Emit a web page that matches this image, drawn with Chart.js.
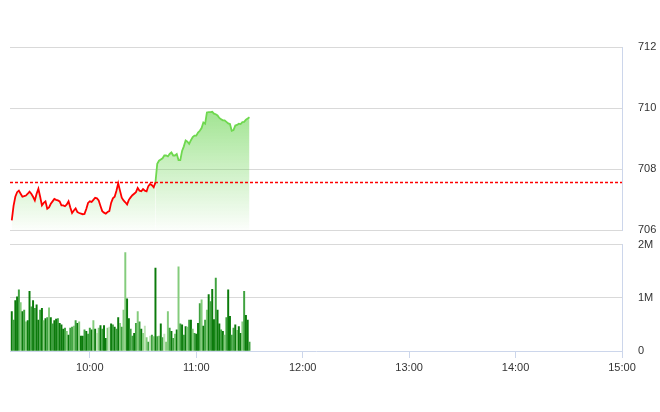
<!DOCTYPE html>
<html><head><meta charset="utf-8">
<script src="https://cdn.jsdelivr.net/npm/chart.js@4.4.1/dist/chart.umd.min.js"></script>
<style>
html,body{margin:0;padding:0;background:#fff;}
#wrap{position:relative;width:660px;height:412px;overflow:hidden;background:#fff;}
#c1{position:absolute;left:0;top:0;width:660px;height:253px;}
#c2{position:absolute;left:0;top:222px;width:660px;height:190px;}
</style></head><body>
<div id="wrap"><canvas id="c1" width="660" height="253"></canvas><canvas id="c2" width="660" height="190"></canvas></div>
<script>
// ---- data (minutes after 09:15) ----
const axisStartMinute = 0;     // 09:15
const axisEndMinute = 345;     // 15:00
const priceStartMinute = 1;
const refPrice = 707.57;
const prices = [
706.33,706.8,707.1,707.25,707.3,707.2,707.1,707.12,707.14,707.2,
707.27,707.2,707.1,706.98,707.2,707.36,707.1,706.82,706.9,706.95,
706.71,706.75,706.87,706.95,707.03,707.0,706.98,706.95,706.82,706.82,
706.79,706.85,706.95,706.75,706.57,706.65,706.72,706.6,706.57,706.55,
706.53,706.54,706.7,706.9,706.95,706.93,707.0,707.07,707.05,706.98,
706.8,706.63,706.58,706.55,706.6,706.63,706.9,707.05,707.1,707.3,
707.54,707.3,707.07,706.98,706.92,706.85,707.0,707.08,707.15,707.2,
707.25,707.39,707.3,707.28,707.35,707.3,707.28,707.45,707.52,707.48,
707.41,707.57,708.18,708.28,708.32,708.36,708.45,708.45,708.42,708.5,
708.55,708.45,708.45,708.5,708.3,708.3,708.6,708.75,708.94,708.9,
708.83,708.95,709.05,709.1,709.1,709.2,709.26,709.35,709.53,709.49,
709.86,709.87,709.87,709.88,709.82,709.8,709.76,709.68,709.64,709.6,
709.6,709.55,709.5,709.48,709.26,709.28,709.43,709.45,709.49,709.48,
709.54,709.55,709.62,709.66,709.7
];
const volStartMinute = 1;
const volumes = [ // millions of shares
0.74,0.58,0.95,1.02,1.15,0.91,0.74,0.77,0.55,0.57,1.12,0.83,0.95,0.8,0.87,0.58,0.77,0.8,0.57,0.61,
0.63,0.81,0.63,0.51,0.57,0.6,0.61,0.52,0.49,0.41,0.43,0.37,0.3,0.43,0.45,0.47,0.57,0.52,0.55,0.28,
0.28,0.4,0.37,0.32,
0.43,0.4,0.57,0.41,0.33,0.43,0.48,0.41,0.48,0.24,0.43,0.45,0.51,0.49,0.45,0.41,0.63,0.52,0.45,0.77,
1.85,0.98,0.61,0.41,0.28,0.33,0.52,0.74,0.55,0.41,0.33,0.47,0.25,0.17,0.28,0.3,0.27,1.56,0.27,0.28,
0.51,0.25,0.32,0.17,0.74,0.43,0.37,0.24,0.32,0.4,
1.58,0.51,0.49,0.3,0.46,0.45,0.58,0.58,0.41,0.33,0.32,0.52,0.89,0.96,0.47,0.58,0.77,1.06,0.93,1.16,
0.59,1.37,0.77,0.51,0.4,0.37,0.3,0.63,1.15,0.65,0.3,0.43,0.49,0.39,0.46,0.33,0.55,1.12,0.67,0.58,0.17
];
const volumeTones = (
"d m d d m l d m l d d m d m d d m d l d m l d m d d m d d d m l d m m l m d l d d m d m " +
"m d l d p l d m d d l p d m d m d l m l l d d m m d m l m d l p l m p m l d m l d m p l l m d m l d " +
"l m d m d l m d l m d d m l d m l d m d d m d d m d l m d d m m d l d d l m d d m"
).split(" ");
const tickMinutes = [45,105,165,225,285,345];
const tickLabels = ["10:00","11:00","12:00","13:00","14:00","15:00"];

// ---- styles ----
const FONT = {family:'"Liberation Sans Narrow","Liberation Sans",Arial,sans-serif', size:11};
const TXT = '#333333';
const GRID = '#d9d9d9';
const AXIS = '#ccd6eb';
const RED = '#ff0000';
const GREEN = '#6fd84f';
const toneColors = {d:'#0b7b0b', m:'#3fa23f', l:'#84cc7c', p:'#bfe4b8'};

function fillGradient(ctx){
  const ca = ctx.chart.chartArea;
  if(!ca) return 'rgba(110,215,85,0.3)';
  const g = ctx.chart.ctx.createLinearGradient(0, ca.top, 0, ca.bottom);
  g.addColorStop(0, 'rgba(105,212,80,0.95)');
  g.addColorStop(1, 'rgba(105,212,80,0.02)');
  return g;
}

new Chart(document.getElementById('c1'), {
  type:'line',
  data:{datasets:[
    {data:[{x:axisStartMinute,y:refPrice},{x:axisEndMinute,y:refPrice}], borderColor:RED, borderWidth:1.5,
     borderDash:[3,2], pointRadius:0, fill:false, order:0},
    {data:prices.map((v,i)=>({x:priceStartMinute+i,y:v})), borderColor:RED, borderWidth:1.8, pointRadius:0,
     tension:0, fill:'start', backgroundColor:fillGradient, order:1,
     segment:{borderColor:c => c.p1.parsed.y > refPrice ? GREEN : RED}}
  ]},
  options:{
    responsive:false, animation:false, events:[],
    layout:{padding:{top:47,left:10,right:0,bottom:0}},
    plugins:{legend:{display:false},tooltip:{enabled:false}},
    scales:{
      x:{type:'linear',min:axisStartMinute,max:axisEndMinute,display:false},
      y:{position:'right',min:706,max:712,
         ticks:{stepSize:2,padding:16,color:TXT,font:FONT},
         grid:{color:GRID,drawTicks:false},
         border:{display:true,color:AXIS},
         afterFit:s=>{s.width=38;}}
    }
  }
});

new Chart(document.getElementById('c2'), {
  type:'bar',
  data:{datasets:[{data:volumes.map((v,i)=>({x:volStartMinute+i,y:v})),
    backgroundColor:volumes.map((v,i)=>toneColors[volumeTones[i]] || toneColors.d),
    barThickness:1.3, borderWidth:0}]},
  options:{
    responsive:false, animation:false, events:[],
    layout:{padding:{top:0,left:10,right:0,bottom:0}},
    plugins:{legend:{display:false},tooltip:{enabled:false}},
    scales:{
      x:{type:'linear',min:axisStartMinute,max:axisEndMinute,offset:false,
         afterBuildTicks:s=>{s.ticks = tickMinutes.map(v=>({value:v}));},
         ticks:{autoSkip:false,maxRotation:0,padding:3,color:TXT,font:FONT,
                callback:(v,i)=>tickLabels[i]},
         grid:{offset:false,drawOnChartArea:false,drawTicks:true,tickLength:7,color:AXIS},
         border:{display:true,color:AXIS},
         afterFit:s=>{s.height=61;}},
      y:{position:'right',min:0,max:2,
         ticks:{stepSize:1,padding:16,color:TXT,font:FONT,callback:v=> v===0?'0':v+'M'},
         grid:{color:c=> (c.tick && c.tick.value===0) ? 'rgba(0,0,0,0)' : GRID, drawTicks:false},
         border:{display:true,color:AXIS},
         afterFit:s=>{s.width=38;}}
    }
  }
});
</script>
</body></html>
